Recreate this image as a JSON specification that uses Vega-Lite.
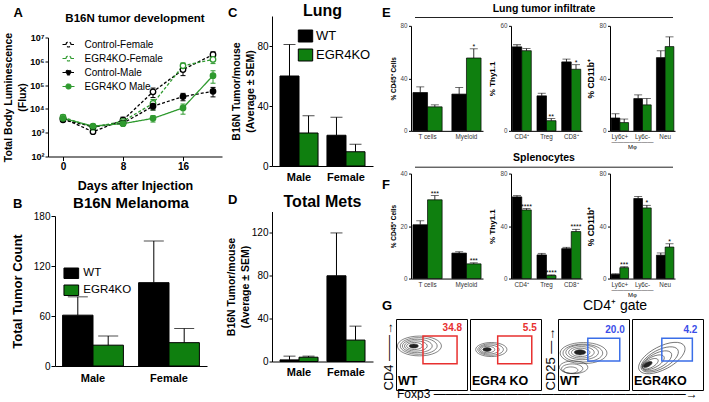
{
"$schema": "https://vega.github.io/schema/vega-lite/v6.json",
"background": "white",
"padding": 0,
"config": {
  "font": "Liberation Sans",
  "view": {"stroke": null},
  "axis": {"grid": false, "domainColor": "black", "tickColor": "black", "labelColor": "black", "titleColor": "black", "labelFont": "Liberation Sans", "titleFont": "Liberation Sans"},
  "title": {"font": "Liberation Sans", "color": "black"},
  "legend": {"labelFont": "Liberation Sans", "labelColor": "black"}
},
"datasets": {
  "lum": [
    {"g":"Control-Female","day":0,"v":4000,"lo":3200,"hi":5000},
    {"g":"Control-Female","day":4,"v":1100,"lo":950,"hi":1300},
    {"g":"Control-Female","day":8,"v":3400,"lo":2600,"hi":4500},
    {"g":"Control-Female","day":12,"v":52000,"lo":30000,"hi":75000},
    {"g":"Control-Female","day":16,"v":450000,"lo":250000,"hi":700000},
    {"g":"Control-Female","day":20,"v":1900000,"lo":1300000,"hi":2500000},
    {"g":"EGR4KO-Female","day":0,"v":4500,"lo":3600,"hi":5600},
    {"g":"EGR4KO-Female","day":4,"v":1700,"lo":1400,"hi":2000},
    {"g":"EGR4KO-Female","day":8,"v":3000,"lo":2300,"hi":3800},
    {"g":"EGR4KO-Female","day":12,"v":17000,"lo":9000,"hi":25000},
    {"g":"EGR4KO-Female","day":16,"v":650000,"lo":450000,"hi":850000},
    {"g":"EGR4KO-Female","day":20,"v":1200000,"lo":800000,"hi":1600000},
    {"g":"Control-Male","day":0,"v":3500,"lo":2900,"hi":4200},
    {"g":"Control-Male","day":4,"v":1800,"lo":1500,"hi":2100},
    {"g":"Control-Male","day":8,"v":2500,"lo":2000,"hi":3000},
    {"g":"Control-Male","day":12,"v":13000,"lo":9000,"hi":17000},
    {"g":"Control-Male","day":16,"v":33000,"lo":22000,"hi":45000},
    {"g":"Control-Male","day":20,"v":55000,"lo":32000,"hi":80000},
    {"g":"EGR4KO Male","day":0,"v":4000,"lo":3200,"hi":4800},
    {"g":"EGR4KO Male","day":4,"v":1900,"lo":1600,"hi":2200},
    {"g":"EGR4KO Male","day":8,"v":2400,"lo":2000,"hi":2900},
    {"g":"EGR4KO Male","day":12,"v":4000,"lo":2800,"hi":5200},
    {"g":"EGR4KO Male","day":16,"v":11000,"lo":6000,"hi":16000},
    {"g":"EGR4KO Male","day":20,"v":250000,"lo":120000,"hi":400000}
  ],
  "b": [
    {"sex":"Male","geno":"WT","v":61,"hi":83},
    {"sex":"Male","geno":"EGR4KO","v":25,"hi":36},
    {"sex":"Female","geno":"WT","v":100,"hi":150},
    {"sex":"Female","geno":"EGR4KO","v":28,"hi":45}
  ],
  "c": [
    {"sex":"Male","geno":"WT","v":60,"hi":81},
    {"sex":"Male","geno":"EGR4KO","v":22,"hi":33.5},
    {"sex":"Female","geno":"WT","v":20.5,"hi":32.5},
    {"sex":"Female","geno":"EGR4KO","v":9.5,"hi":14.5}
  ],
  "d": [
    {"sex":"Male","geno":"WT","v":1.5,"hi":5},
    {"sex":"Male","geno":"EGR4KO","v":4,"hi":5},
    {"sex":"Female","geno":"WT","v":80,"hi":120},
    {"sex":"Female","geno":"EGR4KO","v":20,"hi":33}
  ],
  "ef": [
    {"p":"E1","c":"T cells","g":"WT","v":29.2,"hi":33.5,"s":""},
    {"p":"E1","c":"T cells","g":"EGR4KO","v":18.3,"hi":19.8,"s":""},
    {"p":"E1","c":"Myeloid","g":"WT","v":28,"hi":33,"s":""},
    {"p":"E1","c":"Myeloid","g":"EGR4KO","v":55.5,"hi":62.5,"s":"*"},
    {"p":"E2","c":"CD4⁺","g":"WT","v":48,"hi":49.2,"s":""},
    {"p":"E2","c":"CD4⁺","g":"EGR4KO","v":45.8,"hi":47,"s":""},
    {"p":"E2","c":"Treg","g":"WT","v":20,"hi":21.5,"s":""},
    {"p":"E2","c":"Treg","g":"EGR4KO","v":5.8,"hi":7,"s":"**"},
    {"p":"E2","c":"CD8⁺","g":"WT","v":39.4,"hi":41,"s":""},
    {"p":"E2","c":"CD8⁺","g":"EGR4KO","v":35.2,"hi":37.8,"s":"*"},
    {"p":"E3","c":"Ly6c+","g":"WT","v":9.8,"hi":13,"s":""},
    {"p":"E3","c":"Ly6c+","g":"EGR4KO","v":6.3,"hi":9,"s":""},
    {"p":"E3","c":"Ly6c-","g":"WT","v":24.6,"hi":27.4,"s":""},
    {"p":"E3","c":"Ly6c-","g":"EGR4KO","v":19.8,"hi":24.6,"s":""},
    {"p":"E3","c":"Neu","g":"WT","v":55.8,"hi":61,"s":""},
    {"p":"E3","c":"Neu","g":"EGR4KO","v":64.2,"hi":71.6,"s":""},
    {"p":"F1","c":"T cells","g":"WT","v":20.5,"hi":22,"s":""},
    {"p":"F1","c":"T cells","g":"EGR4KO","v":30,"hi":31.6,"s":"***"},
    {"p":"F1","c":"Myeloid","g":"WT","v":9.7,"hi":10.2,"s":""},
    {"p":"F1","c":"Myeloid","g":"EGR4KO","v":5.6,"hi":6,"s":"***"},
    {"p":"F2","c":"CD4⁺","g":"WT","v":62.2,"hi":63.2,"s":""},
    {"p":"F2","c":"CD4⁺","g":"EGR4KO","v":52.3,"hi":53.3,"s":"****"},
    {"p":"F2","c":"Treg","g":"WT","v":18,"hi":19.2,"s":""},
    {"p":"F2","c":"Treg","g":"EGR4KO","v":2.3,"hi":2.8,"s":"****"},
    {"p":"F2","c":"CD8⁺","g":"WT","v":22.8,"hi":23.8,"s":""},
    {"p":"F2","c":"CD8⁺","g":"EGR4KO","v":35.8,"hi":37.5,"s":"****"},
    {"p":"F3","c":"Ly6c+","g":"WT","v":3.2,"hi":3.6,"s":""},
    {"p":"F3","c":"Ly6c+","g":"EGR4KO","v":8.3,"hi":9,"s":"***"},
    {"p":"F3","c":"Ly6c-","g":"WT","v":61,"hi":62.5,"s":""},
    {"p":"F3","c":"Ly6c-","g":"EGR4KO","v":53.8,"hi":55.8,"s":"*"},
    {"p":"F3","c":"Neu","g":"WT","v":17.8,"hi":19.5,"s":""},
    {"p":"F3","c":"Neu","g":"EGR4KO","v":24,"hi":26.5,"s":"*"}
  ],
  "gate": [
    {"p":"G1","gx1":38,"gx2":86,"gy1":37,"gy2":76,"n":"34.8"},
    {"p":"G2","gx1":39,"gx2":87,"gy1":37,"gy2":76,"n":"5.5"},
    {"p":"G3","gx1":42,"gx2":87,"gy1":41,"gy2":73,"n":"20.0"},
    {"p":"G4","gx1":42,"gx2":85,"gy1":41,"gy2":73,"n":"4.2"}
  ],
  "cont": [
    {"p":"G1","x":33,"y":62,"w":62},{"p":"G1","x":32,"y":62,"w":52},{"p":"G1","x":30,"y":62,"w":42},{"p":"G1","x":28,"y":62,"w":32},{"p":"G1","x":26,"y":62,"w":22},{"p":"G1","x":25,"y":62,"w":13},
    {"p":"G2","x":30,"y":57,"w":44},{"p":"G2","x":29,"y":57,"w":36},{"p":"G2","x":27,"y":57,"w":28},{"p":"G2","x":25,"y":57,"w":20},{"p":"G2","x":24,"y":57,"w":12},
    {"p":"G3","x":36,"y":52,"w":66},{"p":"G3","x":35,"y":52,"w":56},{"p":"G3","x":34,"y":53,"w":46},{"p":"G3","x":33,"y":53,"w":36},{"p":"G3","x":32,"y":53,"w":26},{"p":"G3","x":31,"y":53,"w":16},{"p":"G3","x":22,"y":32,"w":40},{"p":"G3","x":20,"y":30,"w":30},{"p":"G3","x":18,"y":28,"w":20},
    {"p":"G4","x":42,"y":45,"w":72},{"p":"G4","x":39,"y":43,"w":58},{"p":"G4","x":35,"y":41,"w":46},{"p":"G4","x":30,"y":39,"w":34},{"p":"G4","x":26,"y":37,"w":24},{"p":"G4","x":22,"y":36,"w":14}
  ],
  "span": [{"a": 0, "b": 1}]
},
"resolve": {"scale": {"color": "independent", "fill": "independent", "stroke": "independent", "size": "independent", "strokeDash": "independent", "xOffset": "independent"}},
"spacing": 0,
"hconcat": [
  {
    "resolve": {"scale": {"color": "independent", "fill": "independent", "stroke": "independent", "size": "independent", "strokeDash": "independent", "xOffset": "independent"}},
    "spacing": 3.5,
    "vconcat": [
      {"width": 1, "height": 3, "data": {"name": "span"}, "mark": {"type": "rule", "opacity": 0}, "encoding": {"y": {"field": "a", "type": "quantitative", "axis": null, "scale": {"domain": [0, 1], "nice": false}}, "y2": {"field": "b"}}},
      {
        "resolve": {"scale": {"color": "independent", "fill": "independent", "stroke": "independent", "size": "independent", "strokeDash": "independent", "xOffset": "independent"}},
        "spacing": 0, "bounds": "flush",
        "title": {"text": "A", "fontSize": 13, "fontWeight": "bold", "anchor": "start", "frame": "bounds", "dx": 13.5, "offset": -7},
        "hconcat": [
          {"width": 48, "height": 1, "data": {"name": "span"}, "mark": {"type": "rule", "opacity": 0}, "encoding": {"x": {"field": "a", "type": "quantitative", "axis": null, "scale": {"domain": [0, 1], "nice": false}}, "x2": {"field": "b"}}},
          {
            "width": 174, "height": 119,
            "title": {"text": "B16N tumor development", "fontSize": 11.5, "fontWeight": "bold", "anchor": "middle", "frame": "group", "offset": 7.5},
            "data": {"name": "lum"},
            "layer": [
              {
                "mark": {"type": "line", "strokeWidth": 1.3},
                "encoding": {
                  "x": {"field": "day", "type": "quantitative", "scale": {"domain": [-2, 21.2], "nice": false, "zero": false}, "axis": {"values": [0,4,8,12,16,20], "title": "Days after Injection", "titleFontSize": 12.5, "titleFontWeight": "bold", "titlePadding": 7.5, "labelFontSize": 10, "labelFontWeight": "bold", "tickSize": 4, "labelPadding": 1}},
                  "y": {"field": "v", "type": "quantitative", "title": ["Total Body Luminescence", "(Flux)"], "scale": {"type": "log", "domain": [100, 10000000], "nice": false}, "axis": {"values": [100,1000,10000,100000,1000000,10000000], "labelExpr": "'10' + ['⁰','¹','²','³','⁴','⁵','⁶','⁷'][round(log(datum.value)/LN10)]", "titleFontSize": 10.5, "titleFontWeight": "bold", "titlePadding": 2.5, "labelFontSize": 9, "labelFontWeight": "bold", "tickSize": 3, "labelPadding": 1, "titleLineHeight": 14}},
                  "stroke": {"field": "g", "type": "nominal", "scale": {"domain": ["Control-Female","EGR4KO-Female","Control-Male","EGR4KO Male"], "range": ["black","#2f9a2f","black","#2f9a2f"]}, "legend": {"title": null, "orient": "none", "legendX": 15.5, "legendY": 2, "symbolType": "M-2.4,0H-1M1,0H2.4M-1,0A1,1 0 1,1 1,0A1,1 0 1,1 -1,0Z", "symbolSize": 25, "symbolStrokeWidth": 1.2, "labelFontSize": 10, "rowPadding": 4, "labelOffset": 11}},
                  "strokeDash": {"field": "g", "type": "nominal", "scale": {"domain": ["Control-Female","EGR4KO-Female","Control-Male","EGR4KO Male"], "range": [[3,2],[3,2],[3,2],[1,0]]}, "legend": null}
                }
              },
              {
                "mark": {"type": "rule", "strokeWidth": 1},
                "encoding": {
                  "x": {"field": "day", "type": "quantitative"},
                  "y": {"field": "lo", "type": "quantitative", "title": ["Total Body Luminescence", "(Flux)"]},
                  "y2": {"field": "hi"},
                  "stroke": {"field": "g", "type": "nominal"}
                }
              },
              {
                "mark": {"type": "point", "shape": "stroke", "size": 25, "strokeWidth": 1, "opacity": 1},
                "encoding": {
                  "x": {"field": "day", "type": "quantitative"},
                  "y": {"field": "lo", "type": "quantitative", "title": ["Total Body Luminescence", "(Flux)"]},
                  "stroke": {"field": "g", "type": "nominal"}
                }
              },
              {
                "mark": {"type": "point", "shape": "stroke", "size": 25, "strokeWidth": 1, "opacity": 1},
                "encoding": {
                  "x": {"field": "day", "type": "quantitative"},
                  "y": {"field": "hi", "type": "quantitative", "title": ["Total Body Luminescence", "(Flux)"]},
                  "stroke": {"field": "g", "type": "nominal"}
                }
              },
              {
                "mark": {"type": "point", "shape": "circle", "size": 30, "strokeWidth": 1.3, "opacity": 1},
                "encoding": {
                  "x": {"field": "day", "type": "quantitative"},
                  "y": {"field": "v", "type": "quantitative", "title": ["Total Body Luminescence", "(Flux)"]},
                  "stroke": {"field": "g", "type": "nominal"},
                  "fill": {"field": "g", "type": "nominal", "scale": {"domain": ["Control-Female","EGR4KO-Female","Control-Male","EGR4KO Male"], "range": ["white","white","black","#2f9a2f"]}, "legend": {"title": null, "orient": "none", "legendX": 15.5, "legendY": 2, "symbolType": "M-2.4,0H-1M1,0H2.4M-1,0A1,1 0 1,1 1,0A1,1 0 1,1 -1,0Z", "symbolSize": 25, "symbolStrokeWidth": 1.2, "labelFontSize": 10, "rowPadding": 4, "labelOffset": 11}}
                }
              }
            ]
          },
          {"width": 2, "height": 1, "data": {"name": "span"}, "mark": {"type": "rule", "opacity": 0}, "encoding": {"x": {"field": "a", "type": "quantitative", "axis": null, "scale": {"domain": [0, 1], "nice": false}}, "x2": {"field": "b"}}}
        ]
      },
      {
        "resolve": {"scale": {"color": "independent", "fill": "independent", "stroke": "independent", "size": "independent", "strokeDash": "independent", "xOffset": "independent"}},
        "spacing": 0, "bounds": "flush",
        "title": {"text": "B", "fontSize": 13, "fontWeight": "bold", "anchor": "start", "frame": "bounds", "dx": 13, "offset": -15.2},
        "hconcat": [
          {"width": 55, "height": 1, "data": {"name": "span"}, "mark": {"type": "rule", "opacity": 0}, "encoding": {"x": {"field": "a", "type": "quantitative", "axis": null, "scale": {"domain": [0, 1], "nice": false}}, "x2": {"field": "b"}}},
          {
            "width": 152, "height": 150,
            "title": {"text": "B16N Melanoma", "fontSize": 15, "fontWeight": "bold", "anchor": "middle", "frame": "group", "offset": 0.5},
            "data": {"name": "b"},
            "encoding": {
              "x": {"field": "sex", "type": "nominal", "sort": ["Male","Female"], "scale": {"paddingInner": 0.2, "paddingOuter": 0.1}, "axis": {"title": null, "labelAngle": 0, "ticks": false, "labelFontSize": 11, "labelFontWeight": "bold", "labelPadding": 6}},
              "xOffset": {"field": "geno", "type": "nominal", "sort": ["WT","EGR4KO"], "scale": {"paddingInner": 0, "paddingOuter": 0}}
            },
            "layer": [
              {"mark": {"type": "bar", "stroke": "black", "strokeWidth": 1}, "encoding": {
                "y": {"field": "v", "type": "quantitative", "scale": {"domain": [0,180], "nice": false}, "axis": {"values": [0,60,120,180], "title": "Total Tumor Count", "titleFontSize": 13, "titleFontWeight": "bold", "labelFontSize": 10, "tickSize": 4, "labelPadding": 1, "titlePadding": 8.5}},
                "fill": {"field": "geno", "type": "nominal", "scale": {"domain": ["WT","EGR4KO"], "range": ["black","#0f7f0f"]}, "legend": {"title": null, "orient": "none", "legendX": 10.3, "legendY": 51.25, "symbolType": "M-1.4,-1H1.4V1H-1.4Z", "symbolSize": 110, "symbolStrokeColor": "black", "symbolStrokeWidth": 1, "labelFontSize": 11.5, "rowPadding": 1, "labelOffset": 6}}}},
              {"mark": {"type": "rule", "color": "black", "strokeWidth": 1}, "encoding": {"y": {"field": "v", "type": "quantitative"}, "y2": {"field": "hi"}}},
              {"mark": {"type": "tick", "color": "black", "size": 20, "thickness": 1}, "encoding": {"y": {"field": "hi", "type": "quantitative"}}}
            ]
          }
        ]
      }
    ]
  },
  {
    "resolve": {"scale": {"color": "independent", "fill": "independent", "stroke": "independent", "size": "independent", "strokeDash": "independent", "xOffset": "independent"}},
    "spacing": 0,
    "vconcat": [
      {"width": 1, "height": 1.7, "data": {"name": "span"}, "mark": {"type": "rule", "opacity": 0}, "encoding": {"y": {"field": "a", "type": "quantitative", "axis": null, "scale": {"domain": [0, 1], "nice": false}}, "y2": {"field": "b"}}},
      {
        "resolve": {"scale": {"color": "independent", "fill": "independent", "stroke": "independent", "size": "independent", "strokeDash": "independent", "xOffset": "independent"}},
        "spacing": 11.5,
        "vconcat": [
          {
            "resolve": {"scale": {"color": "independent", "fill": "independent", "stroke": "independent", "size": "independent", "strokeDash": "independent", "xOffset": "independent"}},
            "spacing": 0, "bounds": "flush",
            "title": {"text": "C", "fontSize": 13, "fontWeight": "bold", "anchor": "start", "frame": "bounds", "dx": 4, "offset": -17},
            "hconcat": [
              {"width": 48, "height": 1, "data": {"name": "span"}, "mark": {"type": "rule", "opacity": 0}, "encoding": {"x": {"field": "a", "type": "quantitative", "axis": null, "scale": {"domain": [0, 1], "nice": false}}, "x2": {"field": "b"}}},
              {
                "width": 101, "height": 150,
                "title": {"text": "Lung", "fontSize": 16, "fontWeight": "bold", "anchor": "middle", "frame": "group", "offset": -2.7},
                "data": {"name": "c"},
                "encoding": {
                  "x": {"field": "sex", "type": "nominal", "sort": ["Male","Female"], "scale": {"paddingInner": 0.19, "paddingOuter": 0.17}, "axis": {"title": null, "labelAngle": 0, "ticks": false, "labelFontSize": 11, "labelFontWeight": "bold", "labelPadding": 5}},
                  "xOffset": {"field": "geno", "type": "nominal", "sort": ["WT","EGR4KO"], "scale": {"paddingInner": 0, "paddingOuter": 0}}
                },
                "layer": [
                  {"mark": {"type": "bar", "stroke": "black", "strokeWidth": 1}, "encoding": {
                    "y": {"field": "v", "type": "quantitative", "scale": {"domain": [0,100], "nice": false}, "axis": {"values": [0,20,40,60,80,100], "title": ["B16N Tumor/mouse", "(Average ± SEM)"], "titleFontSize": 10.5, "titleFontWeight": "bold", "titleLineHeight": 14, "labelFontSize": 10, "tickSize": 3, "labelPadding": 1, "titlePadding": 1}},
                    "fill": {"field": "geno", "type": "nominal", "scale": {"domain": ["WT","EGR4KO"], "range": ["black","#0f7f0f"]}, "legend": {"title": null, "orient": "none", "legendX": 27, "legendY": 13.5, "symbolType": "M-1.2,-1H1.2V1H-1.2Z", "symbolSize": 144, "symbolStrokeColor": "black", "symbolStrokeWidth": 1, "labelFontSize": 13, "rowPadding": 2, "labelOffset": 4}}}},
                  {"mark": {"type": "rule", "color": "black", "strokeWidth": 1}, "encoding": {"y": {"field": "v", "type": "quantitative"}, "y2": {"field": "hi"}}},
                  {"mark": {"type": "tick", "color": "black", "size": 12, "thickness": 1}, "encoding": {"y": {"field": "hi", "type": "quantitative"}}}
                ]
              },
              {"width": 2, "height": 1, "data": {"name": "span"}, "mark": {"type": "rule", "opacity": 0}, "encoding": {"x": {"field": "a", "type": "quantitative", "axis": null, "scale": {"domain": [0, 1], "nice": false}}, "x2": {"field": "b"}}}
            ]
          },
          {
            "resolve": {"scale": {"color": "independent", "fill": "independent", "stroke": "independent", "size": "independent", "strokeDash": "independent", "xOffset": "independent"}},
            "spacing": 0, "bounds": "flush",
            "title": {"text": "D", "fontSize": 13, "fontWeight": "bold", "anchor": "start", "frame": "bounds", "dx": 4, "offset": -12.3},
            "hconcat": [
              {"width": 48, "height": 1, "data": {"name": "span"}, "mark": {"type": "rule", "opacity": 0}, "encoding": {"x": {"field": "a", "type": "quantitative", "axis": null, "scale": {"domain": [0, 1], "nice": false}}, "x2": {"field": "b"}}},
              {
                "width": 101, "height": 150,
                "title": {"text": "Total Mets", "fontSize": 16, "fontWeight": "bold", "anchor": "middle", "frame": "group", "offset": 1.3},
                "data": {"name": "d"},
                "encoding": {
                  "x": {"field": "sex", "type": "nominal", "sort": ["Male","Female"], "scale": {"paddingInner": 0.19, "paddingOuter": 0.17}, "axis": {"title": null, "labelAngle": 0, "ticks": false, "labelFontSize": 11, "labelFontWeight": "bold", "labelPadding": 5}},
                  "xOffset": {"field": "geno", "type": "nominal", "sort": ["WT","EGR4KO"], "scale": {"paddingInner": 0, "paddingOuter": 0}}
                },
                "layer": [
                  {"mark": {"type": "bar", "stroke": "black", "strokeWidth": 1}, "encoding": {
                    "y": {"field": "v", "type": "quantitative", "scale": {"domain": [0,140], "nice": false}, "axis": {"values": [0,40,80,120], "title": ["B16N Tumor/mouse", "(Average ± SEM)"], "titleFontSize": 10.5, "titleFontWeight": "bold", "titleLineHeight": 14, "labelFontSize": 10, "tickSize": 3, "labelPadding": 1, "titlePadding": 1}},
                    "fill": {"field": "geno", "type": "nominal", "scale": {"domain": ["WT","EGR4KO"], "range": ["black","#0f7f0f"]}, "legend": null}}},
                  {"mark": {"type": "rule", "color": "black", "strokeWidth": 1}, "encoding": {"y": {"field": "v", "type": "quantitative"}, "y2": {"field": "hi"}}},
                  {"mark": {"type": "tick", "color": "black", "size": 12, "thickness": 1}, "encoding": {"y": {"field": "hi", "type": "quantitative"}}}
                ]
              }
            ]
          }
        ]
      }
    ]
  },
  {
    "resolve": {"scale": {"color": "independent", "fill": "independent", "stroke": "independent", "size": "independent", "strokeDash": "independent", "xOffset": "independent"}},
    "spacing": 0,
    "vconcat": [
      {"width": 1, "height": 2.75, "data": {"name": "span"}, "mark": {"type": "rule", "opacity": 0}, "encoding": {"y": {"field": "a", "type": "quantitative", "axis": null, "scale": {"domain": [0, 1], "nice": false}}, "y2": {"field": "b"}}},
      {
        "resolve": {"scale": {"color": "independent", "fill": "independent", "stroke": "independent", "size": "independent", "strokeDash": "independent", "xOffset": "independent"}},
        "spacing": 0,
        "vconcat": [
          {
            "resolve": {"scale": {"color": "independent", "fill": "independent", "stroke": "independent", "size": "independent", "strokeDash": "independent", "xOffset": "independent"}},
            "spacing": 2.85,
            "vconcat": [
              {
                "spacing": 0, "bounds": "flush",
                "title": {"text": "E", "fontSize": 13, "fontWeight": "bold", "anchor": "start", "frame": "bounds", "dx": 7, "offset": -16.25},
                "hconcat": [
                  {"width": 40, "height": 1, "data": {"name": "span"}, "mark": {"type": "rule", "opacity": 0}, "encoding": {"x": {"field": "a", "type": "quantitative", "axis": null, "scale": {"domain": [0, 1], "nice": false}}, "x2": {"field": "b"}}},
                  {"width": 258, "height": 1, "title": {"text": "Lung tumor infiltrate", "fontSize": 10.5, "fontWeight": "bold", "anchor": "middle", "frame": "group", "offset": 2.75}, "data": {"name": "span"}, "mark": {"type": "rule", "color": "#222", "strokeWidth": 1}, "encoding": {"x": {"field": "a", "type": "quantitative", "axis": null, "scale": {"domain": [0, 1], "nice": false}}, "x2": {"field": "b"}}}
                ]
              },
              {
                "resolve": {"scale": {"color": "independent", "fill": "independent", "stroke": "independent", "size": "independent", "strokeDash": "independent", "xOffset": "independent"}},
                "spacing": 28, "bounds": "flush",
                "hconcat": [
                  {"width": 8, "height": 1, "data": {"name": "span"}, "mark": {"type": "rule", "opacity": 0}, "encoding": {"x": {"field": "a", "type": "quantitative", "axis": null, "scale": {"domain": [0, 1], "nice": false}}, "x2": {"field": "b"}}},
                  {
                    "width": 72, "height": 105, "data": {"name": "ef"}, "transform": [{"filter": "datum.p === 'E1'"}],
                    "encoding": {"x": {"field": "c", "type": "nominal", "sort": ["T cells","Myeloid"], "scale": {"paddingInner": 0.25, "paddingOuter": 0.05}, "axis": {"title": null, "labelAngle": 0, "ticks": false, "labelFontSize": 6.3, "labelColor": "#333", "labelPadding": 3}}, "xOffset": {"field": "g", "type": "nominal", "sort": ["WT","EGR4KO"], "scale": {"paddingInner": 0, "paddingOuter": 0}}},
                    "layer": [
                      {"mark": {"type": "bar", "stroke": "black", "strokeWidth": 0.7}, "encoding": {"y": {"field": "v", "type": "quantitative", "scale": {"domain": [0,80], "nice": false}, "axis": {"values": [0,20,40,60,80], "title": "% CD45⁺ Cells", "titleFontSize": 6.5, "titleFontWeight": "bold", "labelFontSize": 6.3, "labelColor": "#444", "tickSize": 2.5, "labelPadding": 1.5, "titlePadding": 3}}, "fill": {"field": "g", "type": "nominal", "scale": {"domain": ["WT","EGR4KO"], "range": ["black","#0f7f0f"]}, "legend": null}}},
                      {"mark": {"type": "rule", "color": "black", "strokeWidth": 0.8}, "encoding": {"y": {"field": "v", "type": "quantitative"}, "y2": {"field": "hi"}}},
                      {"mark": {"type": "tick", "color": "black", "size": 8, "thickness": 0.8}, "encoding": {"y": {"field": "hi", "type": "quantitative"}}},
                      {"mark": {"type": "text", "fontSize": 7, "baseline": "bottom", "dy": 1}, "encoding": {"y": {"field": "hi", "type": "quantitative"}, "text": {"field": "s"}}}
                    ]
                  },
                  {
                    "width": 71, "height": 105, "data": {"name": "ef"}, "transform": [{"filter": "datum.p === 'E2'"}],
                    "encoding": {"x": {"field": "c", "type": "nominal", "sort": ["CD4⁺","Treg","CD8⁺"], "scale": {"paddingInner": 0.23, "paddingOuter": 0.05}, "axis": {"title": null, "labelAngle": 0, "ticks": false, "labelFontSize": 6.3, "labelColor": "#333", "labelPadding": 3}}, "xOffset": {"field": "g", "type": "nominal", "sort": ["WT","EGR4KO"], "scale": {"paddingInner": 0, "paddingOuter": 0}}},
                    "layer": [
                      {"mark": {"type": "bar", "stroke": "black", "strokeWidth": 0.7}, "encoding": {"y": {"field": "v", "type": "quantitative", "scale": {"domain": [0,60], "nice": false}, "axis": {"values": [0,20,40,60], "title": "% Thy1.1", "titleFontSize": 8, "titleFontWeight": "bold", "labelFontSize": 6.3, "labelColor": "#444", "tickSize": 2.5, "labelPadding": 1.5, "titlePadding": 3}}, "fill": {"field": "g", "type": "nominal", "scale": {"domain": ["WT","EGR4KO"], "range": ["black","#0f7f0f"]}, "legend": null}}},
                      {"mark": {"type": "rule", "color": "black", "strokeWidth": 0.8}, "encoding": {"y": {"field": "v", "type": "quantitative"}, "y2": {"field": "hi"}}},
                      {"mark": {"type": "tick", "color": "black", "size": 8, "thickness": 0.8}, "encoding": {"y": {"field": "hi", "type": "quantitative"}}},
                      {"mark": {"type": "text", "fontSize": 7, "baseline": "bottom", "dy": 1}, "encoding": {"y": {"field": "hi", "type": "quantitative"}, "text": {"field": "s"}}}
                    ]
                  },
                  {
                    "width": 65, "height": 105, "data": {"name": "ef"}, "transform": [{"filter": "datum.p === 'E3'"}],
                    "encoding": {"x": {"field": "c", "type": "nominal", "sort": ["Ly6c+","Ly6c-","Neu"], "scale": {"paddingInner": 0.23, "paddingOuter": 0.05}, "axis": {"title": ["———————", "Mφ"], "titleFontSize": 6, "titleFontWeight": "normal", "titleLineHeight": 5, "titleAnchor": "start", "titleAlign": "center", "titleX": 22, "titleY": 8, "titleBaseline": "top", "labelAngle": 0, "ticks": false, "labelFontSize": 6.3, "labelColor": "#333", "labelPadding": 3}}, "xOffset": {"field": "g", "type": "nominal", "sort": ["WT","EGR4KO"], "scale": {"paddingInner": 0, "paddingOuter": 0}}},
                    "layer": [
                      {"mark": {"type": "bar", "stroke": "black", "strokeWidth": 0.7}, "encoding": {"y": {"field": "v", "type": "quantitative", "scale": {"domain": [0,80], "nice": false}, "axis": {"values": [0,20,40,60,80], "title": "% CD11b⁺", "titleFontSize": 8.5, "titleFontWeight": "bold", "labelFontSize": 6.3, "labelColor": "#444", "tickSize": 2.5, "labelPadding": 1.5, "titlePadding": 3}}, "fill": {"field": "g", "type": "nominal", "scale": {"domain": ["WT","EGR4KO"], "range": ["black","#0f7f0f"]}, "legend": null}}},
                      {"mark": {"type": "rule", "color": "black", "strokeWidth": 0.8}, "encoding": {"y": {"field": "v", "type": "quantitative"}, "y2": {"field": "hi"}}},
                      {"mark": {"type": "tick", "color": "black", "size": 8, "thickness": 0.8}, "encoding": {"y": {"field": "hi", "type": "quantitative"}}},
                      {"mark": {"type": "text", "fontSize": 7, "baseline": "bottom", "dy": 1}, "encoding": {"y": {"field": "hi", "type": "quantitative"}, "text": {"field": "s"}}}
                    ]
                  }
                ]
              },
              {
                "spacing": 0, "bounds": "flush",
                "hconcat": [
                  {"width": 40, "height": 1, "data": {"name": "span"}, "mark": {"type": "rule", "opacity": 0}, "encoding": {"x": {"field": "a", "type": "quantitative", "axis": null, "scale": {"domain": [0, 1], "nice": false}}, "x2": {"field": "b"}}},
                  {"width": 258, "height": 1, "title": {"text": "Splenocytes", "fontSize": 10.5, "fontWeight": "bold", "anchor": "middle", "frame": "group", "offset": 2.75}, "data": {"name": "span"}, "mark": {"type": "rule", "color": "#222", "strokeWidth": 1}, "encoding": {"x": {"field": "a", "type": "quantitative", "axis": null, "scale": {"domain": [0, 1], "nice": false}}, "x2": {"field": "b"}}}
                ]
              },
              {
                "resolve": {"scale": {"color": "independent", "fill": "independent", "stroke": "independent", "size": "independent", "strokeDash": "independent", "xOffset": "independent"}},
                "spacing": 28, "bounds": "flush",
                "hconcat": [
                  {"width": 8, "height": 1, "data": {"name": "span"}, "mark": {"type": "rule", "opacity": 0}, "encoding": {"x": {"field": "a", "type": "quantitative", "axis": null, "scale": {"domain": [0, 1], "nice": false}}, "x2": {"field": "b"}}},
                  {
                    "width": 72, "height": 105, "data": {"name": "ef"}, "transform": [{"filter": "datum.p === 'F1'"}],
                    "title": {"text": "F", "fontSize": 13, "fontWeight": "bold", "anchor": "start", "frame": "group", "dx": -29, "offset": -21.2},
                    "encoding": {"x": {"field": "c", "type": "nominal", "sort": ["T cells","Myeloid"], "scale": {"paddingInner": 0.25, "paddingOuter": 0.05}, "axis": {"title": null, "labelAngle": 0, "ticks": false, "labelFontSize": 6.3, "labelColor": "#333", "labelPadding": 3}}, "xOffset": {"field": "g", "type": "nominal", "sort": ["WT","EGR4KO"], "scale": {"paddingInner": 0, "paddingOuter": 0}}},
                    "layer": [
                      {"mark": {"type": "bar", "stroke": "black", "strokeWidth": 0.7}, "encoding": {"y": {"field": "v", "type": "quantitative", "scale": {"domain": [0,40], "nice": false}, "axis": {"values": [0,10,20,30,40], "title": "% CD45⁺ Cells", "titleFontSize": 6.5, "titleFontWeight": "bold", "labelFontSize": 6.3, "labelColor": "#444", "tickSize": 2.5, "labelPadding": 1.5, "titlePadding": 3}}, "fill": {"field": "g", "type": "nominal", "scale": {"domain": ["WT","EGR4KO"], "range": ["black","#0f7f0f"]}, "legend": null}}},
                      {"mark": {"type": "rule", "color": "black", "strokeWidth": 0.8}, "encoding": {"y": {"field": "v", "type": "quantitative"}, "y2": {"field": "hi"}}},
                      {"mark": {"type": "tick", "color": "black", "size": 8, "thickness": 0.8}, "encoding": {"y": {"field": "hi", "type": "quantitative"}}},
                      {"mark": {"type": "text", "fontSize": 7, "baseline": "bottom", "dy": 1}, "encoding": {"y": {"field": "hi", "type": "quantitative"}, "text": {"field": "s"}}}
                    ]
                  },
                  {
                    "width": 71, "height": 105, "data": {"name": "ef"}, "transform": [{"filter": "datum.p === 'F2'"}],
                    "encoding": {"x": {"field": "c", "type": "nominal", "sort": ["CD4⁺","Treg","CD8⁺"], "scale": {"paddingInner": 0.23, "paddingOuter": 0.05}, "axis": {"title": null, "labelAngle": 0, "ticks": false, "labelFontSize": 6.3, "labelColor": "#333", "labelPadding": 3}}, "xOffset": {"field": "g", "type": "nominal", "sort": ["WT","EGR4KO"], "scale": {"paddingInner": 0, "paddingOuter": 0}}},
                    "layer": [
                      {"mark": {"type": "bar", "stroke": "black", "strokeWidth": 0.7}, "encoding": {"y": {"field": "v", "type": "quantitative", "scale": {"domain": [0,80], "nice": false}, "axis": {"values": [0,20,40,60,80], "title": "% Thy1.1", "titleFontSize": 8, "titleFontWeight": "bold", "labelFontSize": 6.3, "labelColor": "#444", "tickSize": 2.5, "labelPadding": 1.5, "titlePadding": 3}}, "fill": {"field": "g", "type": "nominal", "scale": {"domain": ["WT","EGR4KO"], "range": ["black","#0f7f0f"]}, "legend": null}}},
                      {"mark": {"type": "rule", "color": "black", "strokeWidth": 0.8}, "encoding": {"y": {"field": "v", "type": "quantitative"}, "y2": {"field": "hi"}}},
                      {"mark": {"type": "tick", "color": "black", "size": 8, "thickness": 0.8}, "encoding": {"y": {"field": "hi", "type": "quantitative"}}},
                      {"mark": {"type": "text", "fontSize": 7, "baseline": "bottom", "dy": 1}, "encoding": {"y": {"field": "hi", "type": "quantitative"}, "text": {"field": "s"}}}
                    ]
                  },
                  {
                    "width": 65, "height": 105, "data": {"name": "ef"}, "transform": [{"filter": "datum.p === 'F3'"}],
                    "encoding": {"x": {"field": "c", "type": "nominal", "sort": ["Ly6c+","Ly6c-","Neu"], "scale": {"paddingInner": 0.23, "paddingOuter": 0.05}, "axis": {"title": ["———————", "Mφ"], "titleFontSize": 6, "titleFontWeight": "normal", "titleLineHeight": 5, "titleAnchor": "start", "titleAlign": "center", "titleX": 22, "titleY": 8, "titleBaseline": "top", "labelAngle": 0, "ticks": false, "labelFontSize": 6.3, "labelColor": "#333", "labelPadding": 3}}, "xOffset": {"field": "g", "type": "nominal", "sort": ["WT","EGR4KO"], "scale": {"paddingInner": 0, "paddingOuter": 0}}},
                    "layer": [
                      {"mark": {"type": "bar", "stroke": "black", "strokeWidth": 0.7}, "encoding": {"y": {"field": "v", "type": "quantitative", "scale": {"domain": [0,80], "nice": false}, "axis": {"values": [0,20,40,60,80], "title": "% CD11b⁺", "titleFontSize": 8.5, "titleFontWeight": "bold", "labelFontSize": 6.3, "labelColor": "#444", "tickSize": 2.5, "labelPadding": 1.5, "titlePadding": 3}}, "fill": {"field": "g", "type": "nominal", "scale": {"domain": ["WT","EGR4KO"], "range": ["black","#0f7f0f"]}, "legend": null}}},
                      {"mark": {"type": "rule", "color": "black", "strokeWidth": 0.8}, "encoding": {"y": {"field": "v", "type": "quantitative"}, "y2": {"field": "hi"}}},
                      {"mark": {"type": "tick", "color": "black", "size": 8, "thickness": 0.8}, "encoding": {"y": {"field": "hi", "type": "quantitative"}}},
                      {"mark": {"type": "text", "fontSize": 7, "baseline": "bottom", "dy": 1}, "encoding": {"y": {"field": "hi", "type": "quantitative"}, "text": {"field": "s"}}}
                    ]
                  }
                ]
              }
            ]
          },
          {
            "resolve": {"scale": {"color": "independent", "fill": "independent", "stroke": "independent", "size": "independent", "strokeDash": "independent", "xOffset": "independent"}},
            "title": {"text": "G", "fontSize": 13, "fontWeight": "bold", "anchor": "start", "frame": "bounds", "dx": 7, "offset": -14.7},
            "vconcat": [
              {
                "resolve": {"scale": {"color": "independent", "fill": "independent", "stroke": "independent", "size": "independent", "strokeDash": "independent", "xOffset": "independent"}},
                "title": {"text": "Foxp3 —————————————————————→", "orient": "bottom", "anchor": "start", "frame": "bounds", "dx": 22, "offset": -1.5, "fontSize": 12, "fontWeight": "normal"},
                "vconcat": [
                  {
                    "resolve": {"scale": {"color": "independent", "fill": "independent", "stroke": "independent", "size": "independent", "strokeDash": "independent", "xOffset": "independent"}},
                    "spacing": 3, "bounds": "flush",
                    "title": {"text": "CD4⁺ gate", "fontSize": 14, "fontWeight": "normal", "anchor": "start", "frame": "bounds", "dx": 208, "offset": 6},
                    "hconcat": [
                      {"width": 18, "height": 1, "data": {"name": "span"}, "mark": {"type": "rule", "opacity": 0}, "encoding": {"x": {"field": "a", "type": "quantitative", "axis": null, "scale": {"domain": [0, 1], "nice": false}}, "x2": {"field": "b"}}},
                      {
                        "width": 71, "height": 71,
                        "view": {"stroke": "black", "strokeWidth": 1},
                        "title": {"text": "WT", "orient": "bottom", "anchor": "start", "frame": "group", "offset": -15, "dx": 2, "fontSize": 12.5, "fontWeight": "bold"},
                        "layer": [
                          {"data": {"name": "cont"}, "transform": [{"filter": "datum.p === 'G1'"}],
                           "mark": {"type": "point", "shape": "M-1,0A1,0.45,0,1,1,1,0A1,0.45,0,1,1,-1,0Z", "filled": true, "stroke": "#333", "strokeWidth": 0.6, "opacity": 1},
                           "encoding": {
                             "x": {"field": "x", "type": "quantitative", "scale": {"domain": [0,100], "nice": false, "zero": false}, "axis": null},
                             "y": {"field": "y", "type": "quantitative", "scale": {"domain": [0,100], "nice": false, "zero": false}, "axis": {"title": "CD4 ——→", "labels": false, "ticks": false, "domain": false, "titleAnchor": "start", "titleFontSize": 13, "titleFontWeight": "normal", "titlePadding": 1}},
                             "size": {"field": "w", "type": "quantitative", "scale": {"type": "pow", "exponent": 2, "domain": [0,100], "range": [0,5041]}, "legend": null},
                             "fill": {"condition": {"test": "datum.w <= 16", "value": "#222"}, "value": "transparent"}
                           }},
                          {"data": {"name": "gate"}, "transform": [{"filter": "datum.p === 'G1'"}],
                           "mark": {"type": "rect", "filled": false, "color": "#e8302f", "strokeWidth": 1.5},
                           "encoding": {"x": {"field": "gx1", "type": "quantitative", "axis": null}, "x2": {"field": "gx2"}, "y": {"field": "gy1", "type": "quantitative", "axis": {"title": "CD4 ——→", "labels": false, "ticks": false, "domain": false, "titleAnchor": "start", "titleFontSize": 13, "titleFontWeight": "normal", "titlePadding": 1}}, "y2": {"field": "gy2"}}},
                          {"data": {"name": "gate"}, "transform": [{"filter": "datum.p === 'G1'"}],
                           "mark": {"type": "text", "align": "right", "baseline": "bottom", "dx": 5, "dy": -3, "color": "#e8302f", "fontSize": 10, "fontWeight": "bold"},
                           "encoding": {"x": {"field": "gx2", "type": "quantitative", "axis": null}, "y": {"field": "gy2", "type": "quantitative", "axis": {"title": "CD4 ——→", "labels": false, "ticks": false, "domain": false, "titleAnchor": "start", "titleFontSize": 13, "titleFontWeight": "normal", "titlePadding": 1}}, "text": {"field": "n"}}}
                        ]
                      },
                      {
                        "width": 71, "height": 71,
                        "view": {"stroke": "black", "strokeWidth": 1},
                        "title": {"text": "EGR4 KO", "orient": "bottom", "anchor": "start", "frame": "group", "offset": -15, "dx": 2, "fontSize": 12.5, "fontWeight": "bold"},
                        "layer": [
                          {"data": {"name": "cont"}, "transform": [{"filter": "datum.p === 'G2'"}],
                           "mark": {"type": "point", "shape": "M-1,0A1,0.45,0,1,1,1,0A1,0.45,0,1,1,-1,0Z", "filled": true, "stroke": "#333", "strokeWidth": 0.6, "opacity": 1},
                           "encoding": {
                             "x": {"field": "x", "type": "quantitative", "scale": {"domain": [0,100], "nice": false, "zero": false}, "axis": null},
                             "y": {"field": "y", "type": "quantitative", "scale": {"domain": [0,100], "nice": false, "zero": false}, "axis": null},
                             "size": {"field": "w", "type": "quantitative", "scale": {"type": "pow", "exponent": 2, "domain": [0,100], "range": [0,5041]}, "legend": null},
                             "fill": {"condition": {"test": "datum.w <= 16", "value": "#222"}, "value": "transparent"}
                           }},
                          {"data": {"name": "gate"}, "transform": [{"filter": "datum.p === 'G2'"}],
                           "mark": {"type": "rect", "filled": false, "color": "#e8302f", "strokeWidth": 1.5},
                           "encoding": {"x": {"field": "gx1", "type": "quantitative", "axis": null}, "x2": {"field": "gx2"}, "y": {"field": "gy1", "type": "quantitative", "axis": null}, "y2": {"field": "gy2"}}},
                          {"data": {"name": "gate"}, "transform": [{"filter": "datum.p === 'G2'"}],
                           "mark": {"type": "text", "align": "right", "baseline": "bottom", "dx": 5, "dy": -3, "color": "#e8302f", "fontSize": 10, "fontWeight": "bold"},
                           "encoding": {"x": {"field": "gx2", "type": "quantitative", "axis": null}, "y": {"field": "gy2", "type": "quantitative", "axis": null}, "text": {"field": "n"}}}
                        ]
                      },
                      {"width": 11, "height": 1, "data": {"name": "span"}, "mark": {"type": "rule", "opacity": 0}, "encoding": {"x": {"field": "a", "type": "quantitative", "axis": null, "scale": {"domain": [0, 1], "nice": false}}, "x2": {"field": "b"}}},
                      {
                        "width": 71, "height": 71,
                        "view": {"stroke": "black", "strokeWidth": 1},
                        "title": {"text": "WT", "orient": "bottom", "anchor": "start", "frame": "group", "offset": -15, "dx": 2, "fontSize": 12.5, "fontWeight": "bold"},
                        "layer": [
                          {"data": {"name": "cont"}, "transform": [{"filter": "datum.p === 'G3'"}],
                           "mark": {"type": "point", "shape": "M-1,0A1,0.45,0,1,1,1,0A1,0.45,0,1,1,-1,0Z", "filled": true, "stroke": "#333", "strokeWidth": 0.6, "opacity": 1},
                           "encoding": {
                             "x": {"field": "x", "type": "quantitative", "scale": {"domain": [0,100], "nice": false, "zero": false}, "axis": null},
                             "y": {"field": "y", "type": "quantitative", "scale": {"domain": [0,100], "nice": false, "zero": false}, "axis": {"title": "CD25 —→", "labels": false, "ticks": false, "domain": false, "titleAnchor": "start", "titleFontSize": 13, "titleFontWeight": "normal", "titlePadding": 1}},
                             "size": {"field": "w", "type": "quantitative", "scale": {"type": "pow", "exponent": 2, "domain": [0,100], "range": [0,5041]}, "legend": null},
                             "fill": {"condition": {"test": "datum.w <= 16", "value": "#222"}, "value": "transparent"}
                           }},
                          {"data": {"name": "gate"}, "transform": [{"filter": "datum.p === 'G3'"}],
                           "mark": {"type": "rect", "filled": false, "color": "#3a6ee8", "strokeWidth": 1.5},
                           "encoding": {"x": {"field": "gx1", "type": "quantitative", "axis": null}, "x2": {"field": "gx2"}, "y": {"field": "gy1", "type": "quantitative", "axis": {"title": "CD25 —→", "labels": false, "ticks": false, "domain": false, "titleAnchor": "start", "titleFontSize": 13, "titleFontWeight": "normal", "titlePadding": 1}}, "y2": {"field": "gy2"}}},
                          {"data": {"name": "gate"}, "transform": [{"filter": "datum.p === 'G3'"}],
                           "mark": {"type": "text", "align": "right", "baseline": "bottom", "dx": 5, "dy": -3, "color": "#3a4ee8", "fontSize": 10, "fontWeight": "bold"},
                           "encoding": {"x": {"field": "gx2", "type": "quantitative", "axis": null}, "y": {"field": "gy2", "type": "quantitative", "axis": {"title": "CD25 —→", "labels": false, "ticks": false, "domain": false, "titleAnchor": "start", "titleFontSize": 13, "titleFontWeight": "normal", "titlePadding": 1}}, "text": {"field": "n"}}}
                        ]
                      },
                      {
                        "width": 71, "height": 71,
                        "view": {"stroke": "black", "strokeWidth": 1},
                        "title": {"text": "EGR4KO", "orient": "bottom", "anchor": "start", "frame": "group", "offset": -15, "dx": 2, "fontSize": 12.5, "fontWeight": "bold"},
                        "layer": [
                          {"data": {"name": "cont"}, "transform": [{"filter": "datum.p === 'G4'"}],
                           "mark": {"type": "point", "shape": "M-1,0A1,0.45,0,1,1,1,0A1,0.45,0,1,1,-1,0Z", "filled": true, "stroke": "#333", "strokeWidth": 0.6, "opacity": 1, "angle": -28},
                           "encoding": {
                             "x": {"field": "x", "type": "quantitative", "scale": {"domain": [0,100], "nice": false, "zero": false}, "axis": null},
                             "y": {"field": "y", "type": "quantitative", "scale": {"domain": [0,100], "nice": false, "zero": false}, "axis": null},
                             "size": {"field": "w", "type": "quantitative", "scale": {"type": "pow", "exponent": 2, "domain": [0,100], "range": [0,5041]}, "legend": null},
                             "fill": {"condition": {"test": "datum.w <= 16", "value": "#222"}, "value": "transparent"}
                           }},
                          {"data": {"name": "gate"}, "transform": [{"filter": "datum.p === 'G4'"}],
                           "mark": {"type": "rect", "filled": false, "color": "#3a6ee8", "strokeWidth": 1.5},
                           "encoding": {"x": {"field": "gx1", "type": "quantitative", "axis": null}, "x2": {"field": "gx2"}, "y": {"field": "gy1", "type": "quantitative", "axis": null}, "y2": {"field": "gy2"}}},
                          {"data": {"name": "gate"}, "transform": [{"filter": "datum.p === 'G4'"}],
                           "mark": {"type": "text", "align": "right", "baseline": "bottom", "dx": 5, "dy": -3, "color": "#3a4ee8", "fontSize": 10, "fontWeight": "bold"},
                           "encoding": {"x": {"field": "gx2", "type": "quantitative", "axis": null}, "y": {"field": "gy2", "type": "quantitative", "axis": null}, "text": {"field": "n"}}}
                        ]
                      }
                    ]
                  }
                ]
              }
            ]
          }
        ]
      }
    ]
  }
]
}
